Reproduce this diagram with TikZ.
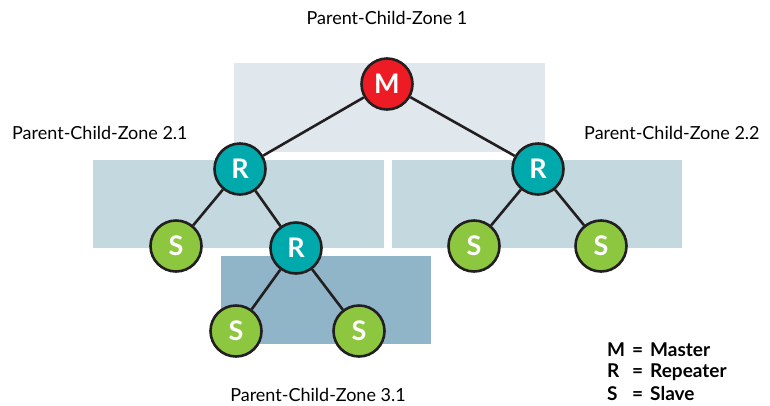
\documentclass[tikz,border=0pt]{standalone}
\usepackage{fontspec}
\setmainfont{Lato}
\definecolor{zoneA}{HTML}{E0E8EE}
\definecolor{zoneB}{HTML}{C4D8E0}
\definecolor{zoneC}{HTML}{90B4C8}
\definecolor{mred}{HTML}{ED1C24}
\definecolor{rteal}{HTML}{00A9AC}
\definecolor{sgreen}{HTML}{8DC63F}
\definecolor{outl}{HTML}{231F20}
\newcommand{\legitem}[2]{\makebox[25pt][l]{#1}=\hspace{7pt}#2}
\begin{document}
\begin{tikzpicture}[x=1pt,y=-1pt,
  nd/.style={circle,draw=outl,line width=2.6pt,minimum size=51pt,inner sep=0pt,text=white,font=\fontsize{27}{29}\selectfont\bfseries},
  mnode/.style={nd,fill=mred},
  rnode/.style={nd,fill=rteal},
  snode/.style={nd,fill=sgreen},
  link/.style={draw=outl,line width=2.6pt},
  zlabel/.style={font=\fontsize{18}{20}\selectfont,text=black,inner sep=0pt},
  legend/.style={font=\fontsize{19}{21}\selectfont\bfseries,anchor=west,inner sep=0pt}]
\useasboundingbox (0,0) rectangle (770,405);
\fill[zoneA] (234,63) rectangle (545,152);
\fill[zoneB] (93,160) rectangle (384,248);
\fill[zoneB] (392,160) rectangle (682,248);
\fill[zoneC] (221,256) rectangle (431,344);
\node[mnode] (m) at (387,84) {M};
\node[rnode] (r1) at (240,169) {R};
\node[rnode] (r3) at (538,169) {R};
\node[snode] (s1) at (176,246) {S};
\node[rnode] (r2) at (296,248) {R};
\node[snode] (s2) at (236,331) {S};
\node[snode] (s3) at (359,331) {S};
\node[snode] (s4) at (474,246) {S};
\node[snode] (s5) at (601,246) {S};
\draw[link] (m) -- (r1);
\draw[link] (m) -- (r3);
\draw[link] (r1) -- (s1);
\draw[link] (r1) -- (r2);
\draw[link] (r2) -- (s2);
\draw[link] (r2) -- (s3);
\draw[link] (r3) -- (s4);
\draw[link] (r3) -- (s5);
\node[zlabel] (z1) at (387,18) {Parent-Child-Zone 1};
\node[zlabel,anchor=west] (z21) at (12,133) {Parent-Child-Zone 2.1};
\node[zlabel,anchor=west] (z22) at (584,133) {Parent-Child-Zone 2.2};
\node[zlabel] (z31) at (318,395) {Parent-Child-Zone 3.1};
\node[legend] (l1) at (607,350) {\legitem{M}{Master}};
\node[legend] (l2) at (607,372) {\legitem{R}{Repeater}};
\node[legend] (l3) at (607,394) {\legitem{S}{Slave}};
\end{tikzpicture}
\end{document}
